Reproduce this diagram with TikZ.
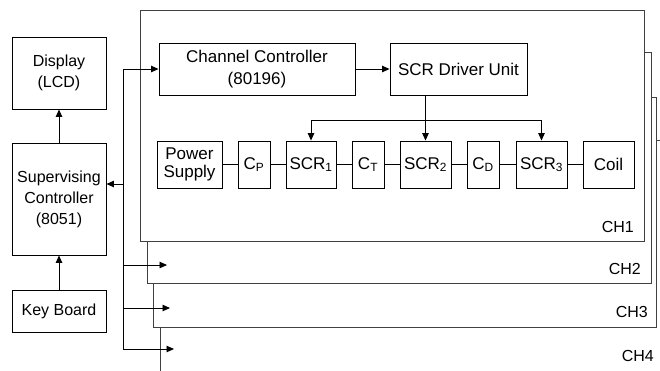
\documentclass[tikz,border=0pt]{standalone}
\usepackage{fontspec}
\setmainfont{Liberation Sans}
\usetikzlibrary{arrows.meta}

\tikzset{
  blk/.style={draw=black, line width=0.9pt, fill=white, align=center, inner sep=1pt,
    font=\fontsize{16}{21}\selectfont},
  rblk/.style={blk, font=\fontsize{17}{22}\selectfont},
  frm/.style={draw=black!75, line width=0.9pt, fill=white},
  chlbl/.style={anchor=south east, inner sep=0pt, font=\fontsize{16}{18}\selectfont},
  arr/.style={line width=0.9pt, -{Triangle[length=7.5pt,width=6.5pt]}},
  ln/.style={line width=0.9pt}
}

\begin{document}
\begin{tikzpicture}[x=1pt, y=-1pt]

  \useasboundingbox (0,0) rectangle (660,370);
  \clip (0,0) rectangle (660,370);

  % channel frames, back to front
  \draw[frm] (160,140) rectangle (680,390);
  \draw[frm] (153,97) rectangle (656,327);
  \draw[frm] (147,52) rectangle (651,283);
  \draw[frm] (140,10) rectangle (644,241);

  \node[chlbl] (ch1) at (634,233) {CH1};
  \node[chlbl] (ch2) at (641,275) {CH2};
  \node[chlbl] (ch3) at (648,318) {CH3};
  \node[chlbl] (ch4) at (654,362) {CH4};

  % left column
  \node[blk, minimum width=94pt, minimum height=72pt] (disp) at (59,73) {Display\\(LCD)};
  \node[blk, minimum width=94pt, minimum height=112pt] (sup) at (59,199) {Supervising\\Controller\\(8051)};
  \node[blk, minimum width=94pt, minimum height=42pt] (key) at (59,311) {Key Board};

  \draw[arr] (key) -- (sup);
  \draw[arr] (sup) -- (disp);

  % channel 1 blocks
  \node[rblk, minimum width=196pt, minimum height=52pt] (cc) at (257,69) {Channel Controller\\(80196)};
  \node[rblk, minimum width=137pt, minimum height=52pt] (sdu) at (458.5,69) {SCR Driver Unit};

  \node[rblk, minimum width=65pt, minimum height=47pt, font=\fontsize{17}{18}\selectfont] (ps) at (189.5,164.5) {Power\\Supply};
  \node[rblk, minimum width=32pt, minimum height=47pt] (cp) at (254,164.5) {C\textsubscript{P}};
  \node[rblk, minimum width=50pt, minimum height=47pt] (scr1) at (311,164.5) {SCR\textsubscript{1}};
  \node[rblk, minimum width=32pt, minimum height=47pt] (ct) at (368,164.5) {C\textsubscript{T}};
  \node[rblk, minimum width=51pt, minimum height=47pt] (scr2) at (425.5,164.5) {SCR\textsubscript{2}};
  \node[rblk, minimum width=32pt, minimum height=47pt] (cd) at (483,164.5) {C\textsubscript{D}};
  \node[rblk, minimum width=51pt, minimum height=47pt] (scr3) at (541.5,164.5) {SCR\textsubscript{3}};
  \node[rblk, minimum width=51pt, minimum height=47pt] (coil) at (608.5,164.5) {Coil};

  \draw[ln] (ps) -- (cp) -- (scr1) -- (ct) -- (scr2) -- (cd) -- (scr3) -- (coil);

  \draw[arr] (cc) -- (sdu);
  \draw[arr] (scr2.north |- sdu.south) -- (scr2.north);
  \coordinate (split) at (0,120);
  \draw[arr] (split -| scr1) -- (scr1.north);
  \draw[arr] (split -| scr3) -- (scr3.north);
  \draw[ln] (split -| scr1) -- (split -| scr3);

  % bus from supervising controller
  \coordinate (bustop) at (123,69);
  \coordinate (bussup) at (123,184);
  \coordinate (bus2) at (123,265);
  \coordinate (bus3) at (123,308);
  \coordinate (bus4) at (123,349);
  \draw[ln] (bustop) -- (bus4);
  \draw[arr] (bustop) -- (cc.west);
  \draw[arr] (bussup) -- (bussup -| sup.east);
  \draw[arr] (bus2) -- +(44,0);
  \draw[arr] (bus3) -- +(47,0);
  \draw[arr] (bus4) -- +(51,0);

\end{tikzpicture}
\end{document}
